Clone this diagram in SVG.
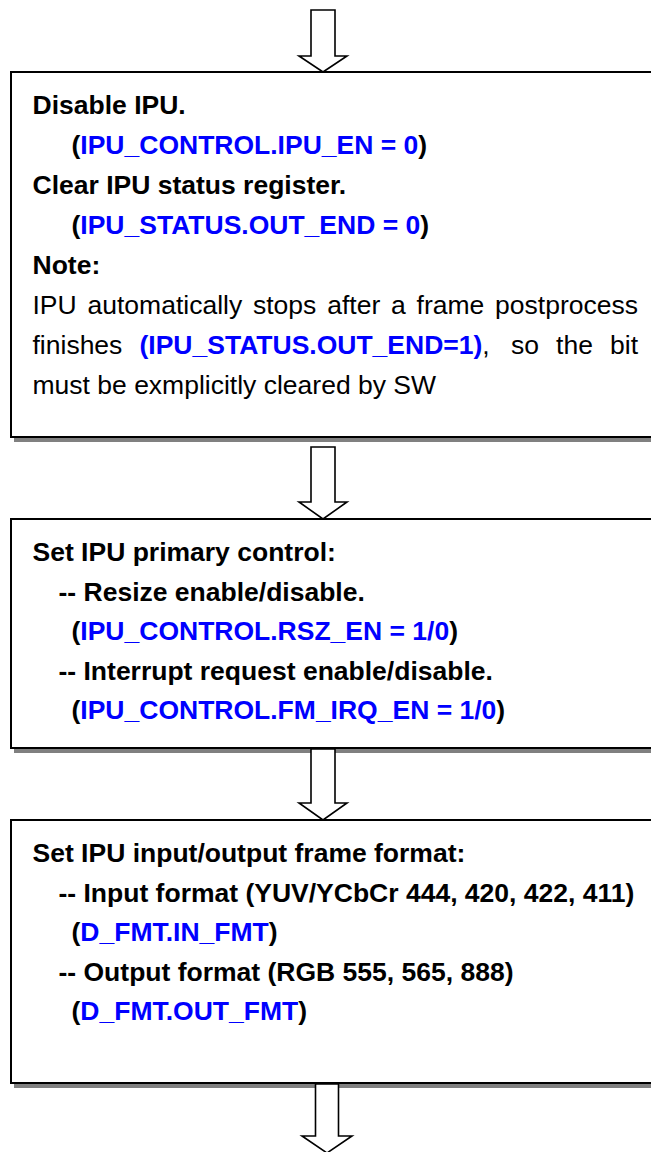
<svg xmlns="http://www.w3.org/2000/svg" width="651" height="1152" viewBox="0 0 651 1152">
<style>
.box{fill:#fff;stroke:#000;stroke-width:2}
.shadow{fill:#808080}
.t{font-family:"Liberation Sans",Arial,sans-serif;font-size:26.5px;fill:#000}
.b{font-weight:bold}
.blue{fill:#0000ff}
.arrow{fill:#fff;stroke:#000;stroke-width:1.6;stroke-linejoin:miter}
</style>
<rect width="651" height="1152" fill="#fff"/>
<g id="node1">
<rect class="shadow" x="14" y="77" width="660" height="365"/>
<rect class="box" x="11" y="72" width="660" height="365"/>
<text class="t b" x="32.5" y="114">Disable IPU.</text>
<text class="t b" x="71.5" y="154">(<tspan class="blue">IPU_CONTROL.IPU_EN = 0</tspan>)</text>
<text class="t b" x="32.5" y="194">Clear IPU status register.</text>
<text class="t b" x="71.5" y="234">(<tspan class="blue">IPU_STATUS.OUT_END = 0</tspan>)</text>
<text class="t b" x="32.5" y="274">Note:</text>
<text class="t" y="314"><tspan x="32.5">IPU</tspan><tspan x="87.5">automatically</tspan><tspan x="253">stops</tspan><tspan x="327.2">after</tspan><tspan x="391">a</tspan><tspan x="416.6">frame</tspan></text>
<text class="t" x="638" y="314" text-anchor="end">postprocess</text>
<text class="t" x="32.5" y="354">finishes</text>
<text class="t" x="139.5" y="354"><tspan class="b blue">(IPU_STATUS.OUT_END=1)</tspan>,</text>
<text class="t" y="354"><tspan x="510.9">so</tspan><tspan x="556.1">the</tspan></text>
<text class="t" x="638" y="354" text-anchor="end">bit</text>
<text class="t" x="32.5" y="394">must be exmplicitly cleared by SW</text>
</g>
<g id="node2">
<rect class="shadow" x="14" y="524" width="660" height="229"/>
<rect class="box" x="11" y="519" width="660" height="229"/>
<text class="t b" x="32.5" y="561">Set IPU primary control:</text>
<text class="t b" x="58.5" y="600.5">-- Resize enable/disable.</text>
<text class="t b" x="71.5" y="640">(<tspan class="blue">IPU_CONTROL.RSZ_EN = 1/0</tspan>)</text>
<text class="t b" x="58.5" y="679.5">-- Interrupt request enable/disable.</text>
<text class="t b" x="71.5" y="719">(<tspan class="blue">IPU_CONTROL.FM_IRQ_EN = 1/0</tspan>)</text>
</g>
<g id="node3">
<rect class="shadow" x="14" y="825" width="660" height="263"/>
<rect class="box" x="11" y="820" width="660" height="263"/>
<text class="t b" x="32.5" y="862">Set IPU input/output frame format:</text>
<text class="t b" x="58.5" y="901.5">-- Input format (YUV/YCbCr 444, 420, 422, 411)</text>
<text class="t b" x="71.5" y="941">(<tspan class="blue">D_FMT.IN_FMT</tspan>)</text>
<text class="t b" x="58.5" y="980.5">-- Output format (RGB 555, 565, 888)</text>
<text class="t b" x="71.5" y="1020">(<tspan class="blue">D_FMT.OUT_FMT</tspan>)</text>
</g>
<g id="connectors">
<polygon class="arrow" points="311,10 335,10 335,56 347,56 323,72 299,56 311,56"/>
<polygon class="arrow" points="311,447 335,447 335,502 347,502 323,519 299,502 311,502"/>
<polygon class="arrow" points="311,749 335,749 335,803 347,803 323,820 299,803 311,803"/>
<polygon class="arrow" points="315.5,1084 338.5,1084 338.5,1136 352,1136 327,1153 302,1136 315.5,1136"/>
</g>
</svg>
